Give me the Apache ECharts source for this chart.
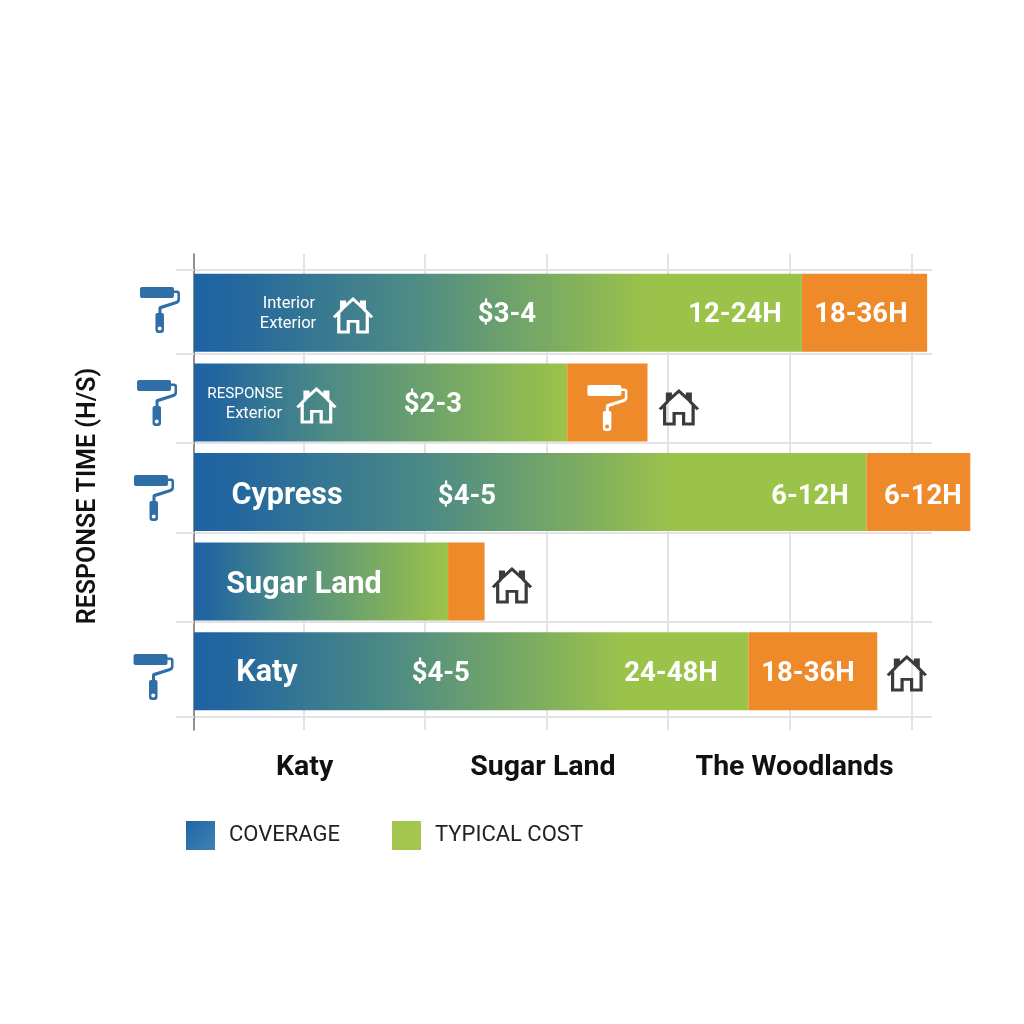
<!DOCTYPE html>
<html>
<head>
<meta charset="utf-8">
<script src="https://cdn.jsdelivr.net/npm/echarts@6/dist/echarts.min.js"></script>
<style>html,body{margin:0;padding:0;background:#fff}#c{width:1024px;height:1024px}</style>
</head>
<body>
<div id="c"></div>
<script>
// ---- data ----
const rows = ['Interior Exterior', 'RESPONSE Exterior', 'Cypress', 'Sugar Land', 'Katy'];
const coverage = [50, 30.7, 55.3, 20.9, 45.6];
const response = [10.3, 6.6, 8.55, 3, 10.6];
const greenStops = [0.75, 1, 0.72, 1, 0.78];
const xTicks = [9, 19, 29, 39, 49, 59];
const yTicks = [15.5, 99.5, 189, 279, 368, 462.5];
const xLabelAt = [9.1, 28.7, 49.4];
const xLabelNames = ['Katy', 'Sugar Land', 'The Woodlands'];
const smallTexts = [['Interior', 7.8, 50], ['Exterior', 7.73, 70], ['Exterior', 4.93, 160]];
const responseText = [['RESPONSE', 4.2, 140]];
const midTexts = [
  ['$3-4', 25.74, 61], ['12-24H', 44.49, 61], ['18-36H', 54.85, 61],
  ['$2-3', 19.65, 151],
  ['$4-5', 22.45, 243], ['6-12H', 50.66, 243], ['6-12H', 59.95, 243],
  ['$4-5', 20.3, 420], ['24-48H', 39.23, 420], ['18-36H', 50.5, 420]
];
const bigTexts = [['Cypress', 7.65, 242], ['Sugar Land', 9.05, 331], ['Katy', 6.0, 419]];
const blueRollers = [[-2.8, 56], [-3.04, 149], [-3.29, 244], [-3.33, 423]];
const whiteRollers = [[34.0, 154]];
const whiteHouses = [[13.08, 61.5], [10.07, 151.5]];
const darkHouses = [[39.88, 153.5], [26.15, 331.5], [58.63, 419.5]];

// ---- styling ----
const BLUE = '#1f65a5', GREEN = '#9cc349', ORANGE = '#ee8a29', GRID = '#e2e3e5';
const FONT = 'Roboto';
const XMAX = 60.7;
const rollerPath = 'path://M2 0H32Q34 0 34 2V9Q34 11 32 11H2Q0 11 0 9V2Q0 0 2 0Z' +
  'M34 3.5H37Q40 3.5 40 6.5V13Q40 16 37.5 16.7L21.5 22V28H18.5V21Q18.5 19.5 20 19L36 14Q37.5 13.5 37.5 12V7Q37.5 6 36.5 6H34Z' +
  'M17.5 26H22Q24 26 24 28V43Q24 46 21 46H18.5Q15.5 46 15.5 43V28Q15.5 26 17.5 26Z' +
  'M19.7 39.5a2 2 0 1 0 0 4a2 2 0 1 0 0 -4Z';
const housePath = 'path://M0 19L8 11V3H11V8L20 0L29 8V3H32V11L40 19M5 15V34H15V23H25V34H35V15';

function gradient(stop) {
  return { type: 'linear', x: 0, y: 0, x2: 1, y2: 0, colorStops: [
    { offset: 0, color: '#1e63a4' },
    { offset: 0.06, color: '#22669f' },
    { offset: 0.35, color: '#4c8a85' },
    { offset: stop, color: GREEN },
    { offset: 1, color: GREEN }
  ] };
}
function textSeries(list, size, weight) {
  return {
    type: 'scatter', xAxisIndex: 1, yAxisIndex: 1, clip: false, z: 6, silent: true,
    symbolSize: 1, itemStyle: { color: 'rgba(0,0,0,0)', opacity: 1 },
    data: list.map(t => ({ value: [t[1], t[2]], name: t[0] })),
    label: { show: true, position: 'inside', formatter: '{b}', color: '#fff',
      fontFamily: FONT, fontSize: size, fontWeight: weight, align: 'center', verticalAlign: 'middle' }
  };
}
function iconSeries(list, path, w, h, style) {
  return {
    type: 'scatter', xAxisIndex: 1, yAxisIndex: 1, clip: false, z: 5, silent: true,
    symbol: path, symbolSize: [w, h], itemStyle: Object.assign({ opacity: 1 }, style), data: list
  };
}

const chart = echarts.init(document.getElementById('c'), null, { renderer: 'canvas' });
chart.setOption({
  backgroundColor: '#ffffff',
  animation: false,
  grid: [
    { left: 194, width: 738, top: 268, height: 448, containLabel: false },
    { left: 194, width: 738, top: 254, height: 476, containLabel: false }
  ],
  xAxis: [
    { gridIndex: 0, type: 'value', min: 0, max: XMAX, show: false },
    { gridIndex: 1, type: 'value', min: 0, max: XMAX,
      axisLine: { show: false },
      axisTick: { show: false, customValues: xTicks },
      splitLine: { show: true, lineStyle: { color: GRID, width: 2 } },
      axisLabel: { show: true, customValues: xLabelAt, margin: 23, color: '#111',
        fontFamily: FONT, fontSize: 28.5, fontWeight: 'bold',
        formatter: v => xLabelNames[xLabelAt.indexOf(v)] || '' }
    }
  ],
  yAxis: [
    { gridIndex: 0, type: 'category', data: rows, inverse: true, show: false },
    { gridIndex: 1, type: 'value', min: 0, max: 476, inverse: true,
      name: 'RESPONSE TIME (H/S)', nameLocation: 'middle', nameRotate: 90, nameGap: 93,
      nameTextStyle: { color: '#111', fontFamily: FONT, fontSize: 25, fontWeight: 600, padding: [0, 8, 0, 0] },
      axisLine: { show: true, lineStyle: { color: '#6a6a6a', width: 1.5 } },
      axisTick: { show: true, length: 18, customValues: yTicks, lineStyle: { color: GRID, width: 2 } },
      splitLine: { show: true, lineStyle: { color: GRID, width: 2 } },
      axisLabel: { show: false }
    }
  ],
  legend: {
    left: 186, top: 821, padding: 0, itemWidth: 29, itemHeight: 29, itemGap: 52, icon: 'rect', selectedMode: false,
    data: ['COVERAGE', 'TYPICAL COST'],
    textStyle: { color: '#222', fontFamily: FONT, fontSize: 22, padding: [4, 0, 0, 9] }
  },
  series: [
    { name: 'COVERAGE', type: 'bar', stack: 'a', xAxisIndex: 0, yAxisIndex: 0, barWidth: 78, clip: false, z: 3,
      itemStyle: { color: { type: 'linear', x: 0, y: 0, x2: 1, y2: 1, colorStops: [
        { offset: 0, color: '#1f65a5' }, { offset: 1, color: '#3f83b5' } ] } },
      data: coverage.map((v, i) => ({ value: v, itemStyle: { color: gradient(greenStops[i]) } })) },
    { name: 'TYPICAL COST', type: 'bar', stack: 'a', xAxisIndex: 0, yAxisIndex: 0, barWidth: 78, clip: false,
      itemStyle: { color: '#a3c74e' }, data: [] },
    { name: 'RESPONSE TIME', type: 'bar', stack: 'a', xAxisIndex: 0, yAxisIndex: 0, barWidth: 78, clip: false, z: 3,
      itemStyle: { color: ORANGE }, data: response },
    iconSeries(blueRollers, rollerPath, 40, 46, { color: '#2f6ea6' }),
    iconSeries(whiteRollers, rollerPath, 40, 46, { color: '#fff' }),
    iconSeries(whiteHouses, housePath, 38, 33, { color: 'rgba(0,0,0,0)', borderColor: '#fff', borderWidth: 3 }),
    iconSeries(darkHouses, housePath, 38, 33, { color: 'rgba(0,0,0,0)', borderColor: '#3b3b3b', borderWidth: 3 }),
    textSeries(smallTexts, 16.5, 400),
    textSeries(responseText, 15.2, 400),
    textSeries(midTexts, 27.5, 'bold'),
    textSeries(bigTexts, 30.5, 'bold')
  ]
});
</script>
</body>
</html>
